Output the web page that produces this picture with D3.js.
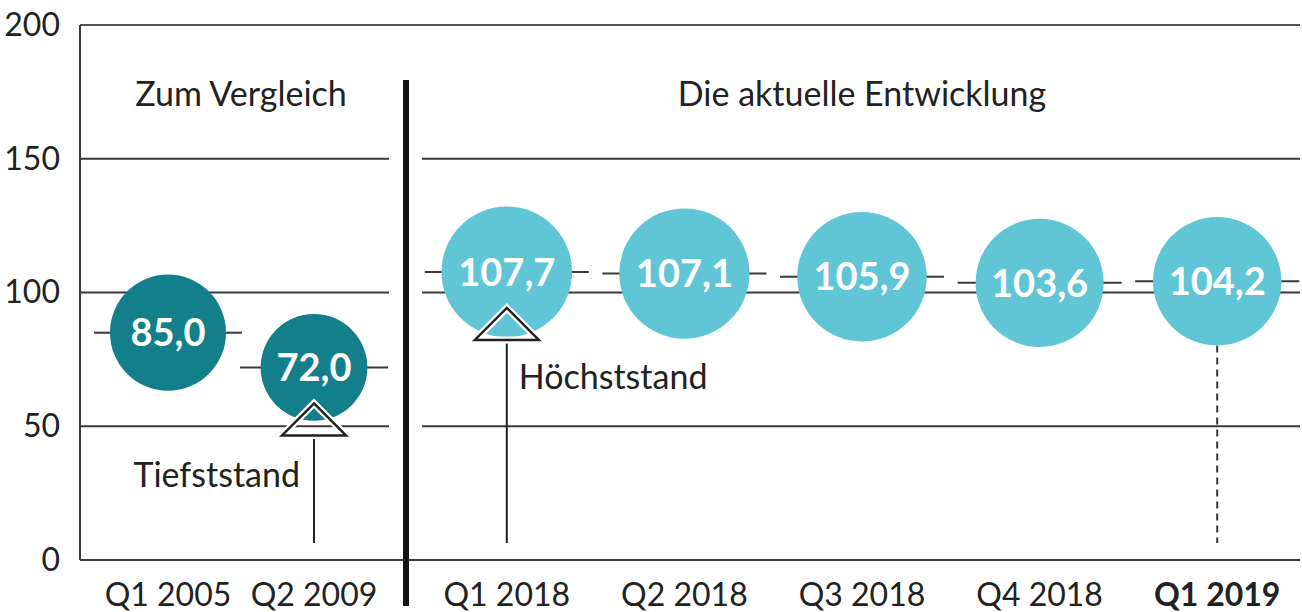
<!DOCTYPE html>
<html>
<head>
<meta charset="utf-8">
<script src="https://cdn.jsdelivr.net/npm/d3@7"></script>
<style>
  body { margin: 0; background: #fff; }
  svg text { font-family: Lato, "Noto Sans", sans-serif; fill: #222; }
</style>
</head>
<body>
<div id="chart"></div>
<script>
// Data
const leftCategories = ["Q1 2005", "Q2 2009"];
const leftValues = [85.0, 72.0];
const rightCategories = ["Q1 2018", "Q2 2018", "Q3 2018", "Q4 2018", "Q1 2019"];
const rightValues = [107.7, 107.1, 105.9, 103.6, 104.2];
const yTicks = [0, 50, 100, 150, 200];
const panelTitles = ["Zum Vergleich", "Die aktuelle Entwicklung"];

// Sizing
const width = 1302;
const height = 612;
const axisX = 80;
const rightEdge = 1300;
const dividerX = 406;

const svg = d3.select("#chart")
    .append("svg")
    .attr("width", width)
    .attr("height", height);

// Scales
const y = d3.scaleLinear().domain([0, 200]).range([560, 25]);
const xLeft = d3.scalePoint().domain(leftCategories).range([95, 387]).padding(0.5);
const xRight = d3.scalePoint().domain(rightCategories).range([418, 1306]).padding(0.5);
const r = d3.scaleSqrt().domain([0, 107.7]).range([0, 65.3]);

// German number format (comma as decimal)
const de = d3.formatLocale({decimal: ",", thousands: ".", grouping: [3], currency: ["", " €"]});
const fmt = de.format(".1f");

const dark = "#127f8b";
const light = "#60c6d6";
const lineColor = "#3a3a3a";

// gridlines, split into the two panels (0 and 200 run all the way across)
const grid = svg.append("g");
yTicks.forEach(t => {
    if (t === 0 || t === 200) {
        grid.append("line")
            .attr("x1", axisX).attr("x2", rightEdge)
            .attr("y1", y(t)).attr("y2", y(t))
            .attr("stroke", t === 200 ? "#555" : lineColor)
            .attr("stroke-width", 2);
    } else {
        [[axisX, 389], [422, rightEdge]].forEach(([a, b]) => {
            grid.append("line")
                .attr("x1", a).attr("x2", b)
                .attr("y1", y(t)).attr("y2", y(t))
                .attr("stroke", lineColor)
                .attr("stroke-width", 2);
        });
    }
});

// left axis line
svg.append("line")
    .attr("x1", axisX).attr("x2", axisX)
    .attr("y1", y(200)).attr("y2", y(0))
    .attr("stroke", lineColor)
    .attr("stroke-width", 2);

// y axis labels
const yAxis = svg.append("g")
    .attr("transform", `translate(${axisX}, 0)`)
    .call(d3.axisLeft(y).tickValues(yTicks).tickSize(0).tickPadding(20));
yAxis.select(".domain").remove();
yAxis.selectAll("text")
    .style("font-size", "32px")
    .style("font-family", "Lato, sans-serif")
    .attr("fill", "#222");

// divider between the two panels
svg.append("line")
    .attr("x1", dividerX).attr("x2", dividerX)
    .attr("y1", 80).attr("y2", 606)
    .attr("stroke", "#111")
    .attr("stroke-width", 6);

// panel titles
svg.append("text")
    .attr("x", d3.mean(xLeft.range()))
    .attr("y", 106)
    .attr("text-anchor", "middle")
    .style("font-size", "34px")
    .text(panelTitles[0]);
svg.append("text")
    .attr("x", d3.mean(xRight.range()))
    .attr("y", 106)
    .attr("text-anchor", "middle")
    .style("font-size", "34px")
    .text(panelTitles[1]);

// category labels
const leftData = leftCategories.map((c, i) => ({cat: c, value: leftValues[i], x: xLeft(c), halfW: 74, color: dark}));
const rightData = rightCategories.map((c, i) => ({cat: c, value: rightValues[i], x: xRight(c), halfW: 82, color: light}));
const allData = leftData.concat(rightData);

svg.append("g")
    .selectAll("text")
    .data(allData)
    .enter()
    .append("text")
    .attr("x", d => d.x)
    .attr("y", 606)
    .attr("text-anchor", "middle")
    .style("font-size", "32px")
    .style("font-weight", d => d.cat === "Q1 2019" ? "bold" : "normal")
    .text(d => d.cat);

// short value lines behind each bubble
svg.append("g")
    .selectAll("line")
    .data(allData)
    .enter()
    .append("line")
    .attr("x1", d => d.x - d.halfW)
    .attr("x2", d => d.x + d.halfW)
    .attr("y1", d => y(d.value))
    .attr("y2", d => y(d.value))
    .attr("stroke", lineColor)
    .attr("stroke-width", 2);

// dashed drop line for the latest quarter
const last = rightData[rightData.length - 1];
svg.append("line")
    .attr("x1", last.x).attr("x2", last.x)
    .attr("y1", y(last.value) + r(last.value))
    .attr("y2", y(0) - 17)
    .attr("stroke", lineColor)
    .attr("stroke-width", 2)
    .attr("stroke-dasharray", "7,5");

// bubbles
const bubbles = svg.append("g")
    .selectAll("g")
    .data(allData)
    .enter()
    .append("g")
    .attr("transform", d => `translate(${d.x}, ${y(d.value)})`);

bubbles.append("circle")
    .attr("r", d => r(d.value))
    .attr("fill", d => d.color);

bubbles.append("text")
    .attr("text-anchor", "middle")
    .attr("dy", "0.36em")
    .style("font-size", "38px")
    .style("font-weight", "bold")
    .style("fill", "#fff")
    .text(d => fmt(d.value));

// markers for lowest and highest value
const markers = [
    {d: leftData[1], label: "Tiefststand", side: "left", labelY: 487},
    {d: rightData[0], label: "Höchststand", side: "right", labelY: 389}
];

markers.forEach(m => {
    const cx = m.d.x;
    const apex = y(m.d.value) + 36;
    const base = apex + 32;
    const tri = `M${cx},${apex} L${cx + 32},${base} L${cx - 32},${base} Z`;

    svg.append("line")
        .attr("x1", cx).attr("x2", cx)
        .attr("y1", base).attr("y2", y(0) - 17)
        .attr("stroke", "#222")
        .attr("stroke-width", 2);

    // white halo then the outline
    svg.append("path")
        .attr("d", tri)
        .attr("fill", "none")
        .attr("stroke", "#fff")
        .attr("stroke-width", 7);
    svg.append("path")
        .attr("d", tri)
        .attr("fill", "none")
        .attr("stroke", "#222")
        .attr("stroke-width", 2.5);

    svg.append("text")
        .attr("x", m.side === "left" ? cx - 14 : cx + 12)
        .attr("y", m.labelY)
        .attr("text-anchor", m.side === "left" ? "end" : "start")
        .style("font-size", "34px")
        .text(m.label);
});
</script>
</body>
</html>
